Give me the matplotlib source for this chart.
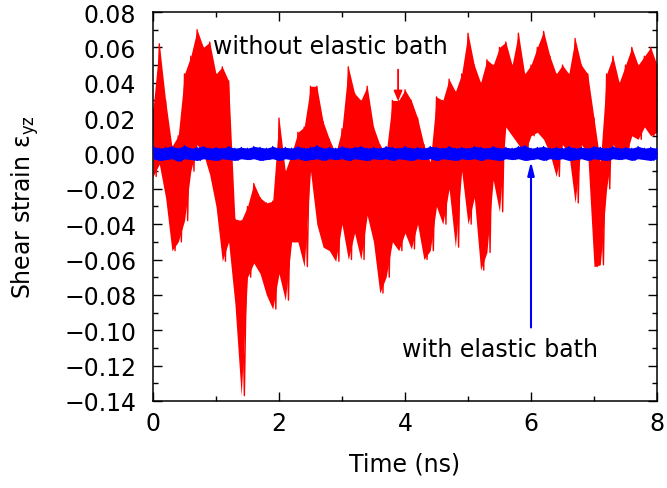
import matplotlib
matplotlib.use('Agg')
import matplotlib.pyplot as plt
import numpy as np

plt.rcParams['font.family'] = ['DejaVu Sans']
plt.rcParams['mathtext.default'] = 'regular'

# time grid of the read-off envelope (ns)
time_ns = np.linspace(0, 8, 81)

# without elastic bath: upper / lower extent of the trace in each 0.1 ns
red_hi = [0.025, 0.062, 0.030, 0.004, 0.010, 0.045, 0.055, 0.070, 0.060, 0.063,
          0.045, 0.049, 0.041, -0.037, -0.038, -0.030, -0.017, -0.025, -0.028, -0.027,
          0.020, -0.010, 0.000, 0.012, 0.015, 0.038, 0.038, 0.018, 0.008, 0.000,
          0.014, 0.049, 0.034, 0.030, 0.038, 0.015, 0.005, 0.000, 0.030, 0.030,
          0.036, 0.030, 0.020, 0.005, -0.005, 0.032, 0.030, 0.042, 0.035, 0.045,
          0.068, 0.050, 0.040, 0.053, 0.050, 0.060, 0.063, 0.050, 0.068, 0.045,
          0.050, 0.060, 0.069, 0.055, 0.045, 0.050, 0.045, 0.065, 0.050, 0.045,
          0.020, -0.005, 0.045, 0.055, 0.040, 0.050, 0.060, 0.050, 0.055, 0.060,
          0.050]
red_lo = [-0.013, -0.006, -0.025, -0.055, -0.050, -0.038, -0.010, 0.005, 0.000, -0.012,
          -0.030, -0.061, -0.050, -0.085, -0.137, -0.070, -0.062, -0.068, -0.080, -0.088,
          -0.068, -0.083, -0.050, -0.050, -0.064, -0.010, -0.040, -0.053, -0.055, -0.061,
          -0.040, -0.060, -0.045, -0.060, -0.035, -0.050, -0.079, -0.070, -0.050, -0.055,
          -0.045, -0.054, -0.040, -0.060, -0.055, -0.030, -0.040, -0.020, -0.053, -0.010,
          -0.040, -0.025, -0.066, -0.056, -0.015, -0.033, 0.015, 0.010, 0.005, 0.000,
          0.010, 0.012, 0.008, 0.000, -0.013, 0.005, 0.000, -0.028, 0.005, 0.000,
          -0.064, -0.063, -0.020, 0.005, 0.000, -0.002, 0.010, 0.008, 0.015, 0.010,
          0.012]

# with elastic bath: narrow band around zero
blue_hi = [0.004, 0.003, 0.0035, 0.004, 0.003, 0.0045, 0.003, 0.0035, 0.004, 0.003,
           0.0035, 0.003, 0.004, 0.003, 0.0035, 0.003, 0.004, 0.0035, 0.003, 0.004,
           0.003, 0.0035, 0.003, 0.004, 0.003, 0.0035, 0.0045, 0.003, 0.0035, 0.003,
           0.004, 0.003, 0.0035, 0.004, 0.003, 0.0035, 0.003, 0.004, 0.0035, 0.003,
           0.004, 0.003, 0.0035, 0.003, 0.004, 0.0035, 0.003, 0.004, 0.003, 0.0035,
           0.003, 0.004, 0.0035, 0.003, 0.004, 0.003, 0.0035, 0.003, 0.004, 0.0045,
           0.003, 0.0035, 0.004, 0.003, 0.0035, 0.003, 0.004, 0.003, 0.0035, 0.003,
           0.004, 0.0035, 0.003, 0.004, 0.003, 0.0035, 0.003, 0.004, 0.003, 0.0035,
           0.003]
blue_lo = [-0.003, -0.004, -0.0035, -0.003, -0.0045, -0.003, -0.0035, -0.004, -0.003, -0.0035,
           -0.004, -0.003, -0.0035, -0.004, -0.003, -0.0035, -0.003, -0.004, -0.0035, -0.003,
           -0.004, -0.003, -0.0035, -0.003, -0.004, -0.0035, -0.003, -0.004, -0.003, -0.0035,
           -0.003, -0.004, -0.003, -0.0035, -0.004, -0.003, -0.0035, -0.003, -0.004, -0.003,
           -0.0035, -0.004, -0.003, -0.0035, -0.003, -0.004, -0.003, -0.0035, -0.004, -0.003,
           -0.0035, -0.003, -0.004, -0.003, -0.0035, -0.004, -0.003, -0.0035, -0.003, -0.004,
           -0.0035, -0.003, -0.004, -0.003, -0.0035, -0.003, -0.004, -0.0035, -0.003, -0.004,
           -0.003, -0.0035, -0.004, -0.003, -0.0035, -0.003, -0.004, -0.003, -0.0035, -0.004,
           -0.003]

x_ticks = [0, 2, 4, 6, 8]
y_ticks = [0.08, 0.06, 0.04, 0.02, 0.00, -0.02, -0.04, -0.06, -0.08, -0.10, -0.12, -0.14]


def zigzag(t, hi, lo, step):
    x = np.empty(2 * len(t))
    y = np.empty(2 * len(t))
    x[0::2] = t
    x[1::2] = t + step
    y[0::2] = hi
    y[1::2] = lo
    return x, y


fs = 17
fig = plt.figure(figsize=(6.67, 4.89), dpi=100)
ax = fig.add_axes([0.2294, 0.178, 0.7556, 0.7954])

# red trace: envelope filled, zigzag on top for the spikes
ax.fill_between(time_ns, red_lo, red_hi, color='#ff0000', lw=0, zorder=2)
rx, ry = zigzag(time_ns, red_hi, red_lo, 0.05)
ax.plot(rx, ry, color='#ff0000', lw=1.0, zorder=2)

ax.fill_between(time_ns, blue_lo, blue_hi, color='#0000ff', lw=0, zorder=3)
bx, by = zigzag(time_ns, blue_hi, blue_lo, 0.05)
ax.plot(bx, by, color='#0000ff', lw=0.8, zorder=3)

ax.set_xlim(0, 8)
ax.set_ylim(-0.14, 0.08)
ax.set_xticks(x_ticks)
ax.set_xticks(np.arange(1, 8, 2), minor=True)
ax.set_yticks(y_ticks)
ax.set_yticks(np.arange(-0.13, 0.08, 0.02), minor=True)
ax.set_yticklabels([('%.2f' % abs(v)) if v >= 0 else '\u2212%.2f' % abs(v) for v in y_ticks])
ax.tick_params(which='both', direction='in', top=True, right=True, labelsize=fs, width=1.0)
ax.tick_params(which='major', length=6.5)
ax.tick_params(which='minor', length=3.5)
ax.tick_params(axis='y', which='major', pad=12)
ax.tick_params(axis='x', which='major', pad=7)
for s in ax.spines.values():
    s.set_linewidth(1.1)

ax.set_xlabel('Time (ns)', fontsize=fs, labelpad=12)
ax.set_ylabel('Shear strain ε$_{yz}$', fontsize=fs)
ax.yaxis.set_label_coords(-0.222, 0.5)

ax.annotate('', xy=(3.89, 0.028), xytext=(3.89, 0.049),
            arrowprops=dict(arrowstyle='-|>,head_width=0.25,head_length=0.6', color='#ff0000', lw=1.3))
ax.text(2.81, 0.0605, 'without elastic bath', fontsize=fs, ha='center', va='center')

ax.annotate('', xy=(6.0, -0.003), xytext=(6.0, -0.1),
            arrowprops=dict(arrowstyle='-|>,head_width=0.2,head_length=0.8', color='#0000ff', lw=1.5))
ax.text(5.51, -0.1105, 'with elastic bath', fontsize=fs, ha='center', va='center')

fig.savefig('out.png', dpi=100)
